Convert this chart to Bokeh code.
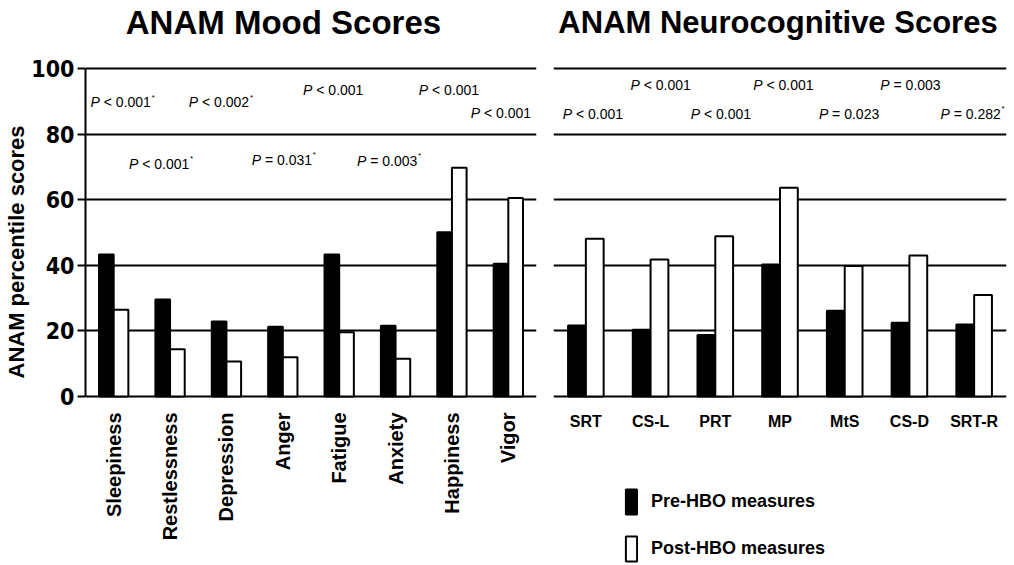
import math
from bokeh.plotting import figure
from bokeh.layouts import row
from bokeh.models import ColumnDataSource, Range1d, FixedTicker, Legend, LegendItem, Title
from bokeh.transform import dodge
from bokeh.core.properties import value
from bokeh.embed import file_html
from bokeh.resources import INLINE

# ---------------- data ----------------
mood_cats = ["Sleepiness", "Restlessness", "Depression", "Anger",
             "Fatigue", "Anxiety", "Happiness", "Vigor"]
mood_pre = [43.3, 29.6, 22.9, 21.3, 43.3, 21.6, 50.1, 40.5]
mood_post = [26.5, 14.4, 10.7, 12.0, 19.6, 11.5, 69.8, 60.6]
mood_p = ["< 0.001", "< 0.001", "< 0.002", "= 0.031",
          "< 0.001", "= 0.003", "< 0.001", "< 0.001"]
mood_star = [True, True, True, True, False, True, False, False]

neuro_cats = ["SRT", "CS-L", "PRT", "MP", "MtS", "CS-D", "SRT-R"]
neuro_pre = [21.7, 20.4, 18.8, 40.3, 26.2, 22.5, 22.0]
neuro_post = [48.1, 41.8, 48.9, 63.7, 39.8, 43.0, 31.0]
neuro_p = ["< 0.001", "< 0.001", "< 0.001", "< 0.001",
           "= 0.023", "= 0.003", "= 0.282"]
neuro_star = [False, False, False, False, False, False, True]

y_ticks = [0, 20, 40, 60, 80, 100]

# ------------- layout of annotations (not data) -------------
mood_p_y = [89.8, 71.1, 89.8, 72.2, 93.6, 72.0, 93.6, 86.4]
mood_p_shift = [7, -11, -7.5, -1, -6, -8.5, -3, -7.5]
neuro_p_y = [86.3, 95.2, 86.3, 95.2, 86.3, 95.2, 86.3]
neuro_p_shift = [7, 10, 5.5, 3.3, 4.3, 1, -3.6]

SANS = "Liberation Sans"
COND = "DejaVu Sans Condensed"
Y_TOP = 120.84     # frame spans the whole canvas height
Y_BOTTOM = -51.57


def make_panel(cats, pre, post, pvals, stars, p_y, p_shift, title, title_dx,
               title_size, width, mbl, mbr, bar_w, show_y):
    p = figure(x_range=cats, y_range=Range1d(Y_BOTTOM, Y_TOP), width=width, height=565,
               output_backend="svg", toolbar_location=None, title=None,
               min_border_left=mbl, min_border_right=mbr,
               min_border_top=0, min_border_bottom=0)
    p.outline_line_color = None
    p.background_fill_color = "white"
    p.border_fill_color = "white"

    src = ColumnDataSource(dict(cat=cats, pre=pre, post=post))
    r1 = p.vbar(x=dodge("cat", -bar_w / 2, range=p.x_range), top="pre", width=bar_w,
                fill_color="black", line_color="black", line_width=2, source=src)
    r2 = p.vbar(x=dodge("cat", bar_w / 2, range=p.x_range), top="post", width=bar_w,
                fill_color="white", line_color="black", line_width=2, source=src)

    # grid (the 0 line doubles as the category baseline)
    p.xgrid.visible = False
    p.ygrid.ticker = FixedTicker(ticks=y_ticks)
    p.ygrid.grid_line_color = "black"
    p.ygrid.grid_line_width = 2

    # x axis replaced by category labels drawn at the factor positions
    p.xaxis.visible = False

    # y axis
    if show_y:
        p.yaxis.ticker = FixedTicker(ticks=y_ticks)
        p.yaxis.bounds = (0, 100)
        p.yaxis.axis_line_width = 2
        p.yaxis.major_tick_line_width = 2
        p.yaxis.major_tick_out = 8
        p.yaxis.major_tick_in = 0
        p.yaxis.minor_tick_line_color = None
        p.yaxis.major_label_text_font = COND
        p.yaxis.major_label_text_font_style = "bold"
        p.yaxis.major_label_text_font_size = "23px"
        p.yaxis.major_label_text_color = "black"
        p.yaxis.major_label_standoff = 3
        yl = Title(text="ANAM percentile scores", align="left", offset=187,
                   text_font=SANS, text_font_size="22px", text_font_style="bold",
                   text_color="black", standoff=0)
        p.add_layout(yl, "left")
    else:
        p.yaxis.visible = False

    # panel title
    p.text(x=[cats[3]], y=[114.0], text=[title], x_offset=title_dx,
           text_align="center", text_baseline="middle", text_font=value(SANS),
           text_font_size=title_size, text_font_style="bold", text_color="black")

    # p-value annotations
    psrc = ColumnDataSource(dict(
        cat=cats, y=p_y, rest=pvals,
        ptxt=["P"] * len(cats),
        star=["*" if s else "" for s in stars],
        off_p=[s - 20.8 for s in p_shift],
        off_r=[s - 16.9 for s in p_shift],
        off_s=[s + 31.0 for s in p_shift],
    ))
    p.text(x="cat", y="y", text="ptxt", source=psrc, x_offset="off_p",
           text_align="right", text_baseline="middle", text_font_size="14px",
           text_font_style="italic", text_font=value(SANS), text_color="black")
    p.text(x="cat", y="y", text="rest", source=psrc, x_offset="off_r",
           text_align="left", text_baseline="middle", text_font_size="14px",
           text_font=value(SANS), text_color="black")
    p.text(x="cat", y="y", text="star", source=psrc, x_offset="off_s", y_offset=-5,
           text_align="left", text_baseline="middle", text_font_size="8px",
           text_font=value(SANS), text_color="black")
    return p, r1, r2


left, _, _ = make_panel(mood_cats, mood_pre, mood_post, mood_p, mood_star,
                        mood_p_y, mood_p_shift, "ANAM Mood Scores", 0.6, "33px",
                        543, 85, 7, 0.26, True)
left.text(x=mood_cats, y=0, text=mood_cats, angle=math.pi / 2, y_offset=16,
          text_align="right", text_baseline="middle", text_font=value(SANS),
          text_font_size="20px", text_font_style="bold", text_color="black")

right, r1, r2 = make_panel(neuro_cats, neuro_pre, neuro_post, neuro_p, neuro_star,
                           neuro_p_y, neuro_p_shift, "ANAM Neurocognitive Scores", -2,
                           "31px", 471, 10, 8, 0.275, False)
right.text(x=neuro_cats, y=0, text=neuro_cats, y_offset=25,
           text_align="center", text_baseline="middle", text_font=value(SANS),
           text_font_size="16px", text_font_style="bold", text_color="black")

legend = Legend(items=[LegendItem(label="Pre-HBO measures", renderers=[r1]),
                       LegendItem(label="Post-HBO measures", renderers=[r2])],
                location=(71, 1), orientation="vertical",
                glyph_width=14, glyph_height=31, spacing=16, label_standoff=13,
                label_text_font=SANS, label_text_font_size="18px",
                label_text_font_style="bold", label_text_color="black",
                border_line_color=None, background_fill_alpha=0, padding=0, margin=0)
right.add_layout(legend, "center")

layout = row(left, right)
open("out.html", "w").write(file_html(layout, INLINE))
